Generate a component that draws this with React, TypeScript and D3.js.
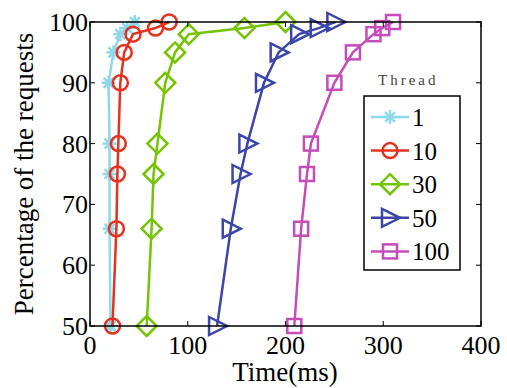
import React, { useRef, useEffect } from 'react';
import * as d3 from 'd3';

const percents = [50, 66, 75, 80, 90, 95, 98, 99, 100];
const threads = ['1', '10', '30', '50', '100'];
const t1 = [21, 20, 20, 20, 19, 24, 31, 38, 46];
const t10 = [23, 27, 28, 29, 31, 35, 44, 67, 81];
const t30 = [58, 63, 65, 69, 77, 87, 101, 158, 200];
const t50 = [130, 144, 154, 161, 178, 193, 214, 234, 251];
const t100 = [209, 216, 222, 226, 250, 269, 290, 299, 310];
const xTicks = [0, 100, 200, 300, 400];
const yTicks = [50, 60, 70, 80, 90, 100];

const colors = ['#8fd8ea', '#e3321f', '#74c403', '#3c46a8', '#c54db9'];
const shapes = ['star', 'circle', 'diamond', 'triangle', 'square'];

const drawMarker = (g, shape, x, y, color) => {
  const m = g.append('g').attr('transform', `translate(${x},${y})`)
    .attr('fill', 'none').attr('stroke', color).attr('stroke-width', 2.5);
  if (shape === 'circle') m.append('circle').attr('r', 7.5);
  if (shape === 'square') m.append('rect').attr('x', -7).attr('y', -7).attr('width', 14).attr('height', 14);
  if (shape === 'diamond') m.append('path').attr('d', 'M0,-10L10,0L0,10L-10,0Z');
  if (shape === 'triangle') m.append('path').attr('d', 'M-8,-9L10,0L-8,9Z');
  if (shape === 'star') {
    [0, 45, 90, 135].forEach(a => {
      const r = 7, rad = a * Math.PI / 180;
      m.append('line')
        .attr('x1', -r * Math.cos(rad)).attr('y1', -r * Math.sin(rad))
        .attr('x2', r * Math.cos(rad)).attr('y2', r * Math.sin(rad));
    });
  }
};

const App = () => {
  const svgRef = useRef(null);

  useEffect(() => {
    const svg = d3.select(svgRef.current);
    svg.selectAll('*').remove();
    const font = 'Liberation Serif, Times New Roman, serif';

    const x = d3.scaleLinear().domain([0, 400]).range([90, 481]);
    const y = d3.scaleLinear().domain([50, 100]).range([326, 22]);

    const series = [t1, t10, t30, t50, t100];

    const line = d3.line<number>()
      .x(d => x(d))
      .y((d, i) => y(percents[i]));

    const plot = svg.append('g');
    series.forEach((s, k) => {
      plot.append('path')
        .attr('d', line(s))
        .attr('fill', 'none')
        .attr('stroke', colors[k])
        .attr('stroke-width', 2.5);
      s.forEach((v, i) => drawMarker(plot, shapes[k], x(v), y(percents[i]), colors[k]));
    });

    // box
    svg.append('rect')
      .attr('x', x(0)).attr('y', y(100))
      .attr('width', x(400) - x(0)).attr('height', y(50) - y(100))
      .attr('fill', 'none').attr('stroke', '#000').attr('stroke-width', 1.5);

    xTicks.forEach(t => {
      svg.append('line').attr('x1', x(t)).attr('x2', x(t))
        .attr('y1', y(50)).attr('y2', y(50) - 5).attr('stroke', '#000');
      svg.append('line').attr('x1', x(t)).attr('x2', x(t))
        .attr('y1', y(100)).attr('y2', y(100) + 5).attr('stroke', '#000');
      svg.append('text').attr('x', x(t)).attr('y', 354)
        .attr('text-anchor', 'middle').attr('font-family', font).attr('font-size', 26)
        .text(t);
    });
    yTicks.forEach(t => {
      svg.append('line').attr('x1', x(0)).attr('x2', x(0) + 5)
        .attr('y1', y(t)).attr('y2', y(t)).attr('stroke', '#000');
      svg.append('line').attr('x1', x(400)).attr('x2', x(400) - 5)
        .attr('y1', y(t)).attr('y2', y(t)).attr('stroke', '#000');
      svg.append('text').attr('x', 88).attr('y', y(t) + 9)
        .attr('text-anchor', 'end').attr('font-family', font).attr('font-size', 26)
        .text(t);
    });

    svg.append('text').attr('x', 285).attr('y', 381)
      .attr('text-anchor', 'middle').attr('font-family', font).attr('font-size', 27)
      .text('Time(ms)');
    svg.append('text')
      .attr('transform', 'translate(33,174) rotate(-90)')
      .attr('text-anchor', 'middle').attr('font-family', font).attr('font-size', 27)
      .text('Percentage of the requests');

    // legend
    const lg = svg.append('g');
    lg.append('text').attr('x', 378).attr('y', 85)
      .attr('font-family', font).attr('font-size', 15).attr('letter-spacing', 3)
      .attr('fill', '#444').text('Thread');
    lg.append('rect').attr('x', 364).attr('y', 96).attr('width', 96).attr('height', 174)
      .attr('fill', '#fff').attr('stroke', '#000').attr('stroke-width', 1.5);
    threads.forEach((name, k) => {
      const ly = 117 + k * 33.6;
      lg.append('line').attr('x1', 371).attr('x2', 409).attr('y1', ly).attr('y2', ly)
        .attr('stroke', colors[k]).attr('stroke-width', 2.5);
      drawMarker(lg, shapes[k], 390, ly, colors[k]);
      lg.append('text').attr('x', 412).attr('y', ly + 9)
        .attr('font-family', font).attr('font-size', 25).text(name);
    });
  }, []);

  return (
    <svg ref={svgRef} width={507} height={388}
      style={{ position: 'absolute', left: 0, top: 0, background: '#fff' }} />
  );
};

export default App;
